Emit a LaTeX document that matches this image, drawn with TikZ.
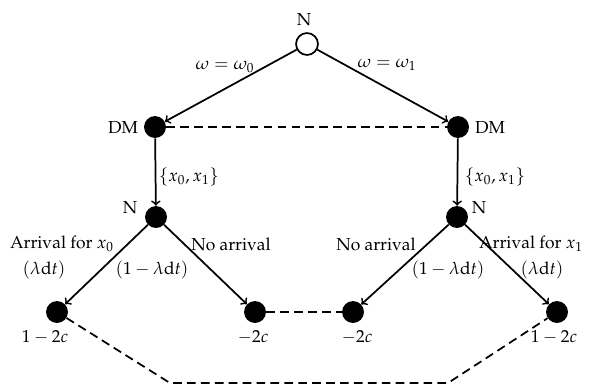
\documentclass[tikz,border=0pt]{standalone}
\usepackage{mathpazo}
\usepackage[T1]{fontenc}

\begin{document}
\begin{tikzpicture}[x=0.575pt,y=-0.575pt,
  chance/.style={circle,draw,line width=1pt,fill=white,minimum size=12.6pt,inner sep=0pt},
  dec/.style={circle,fill=black,minimum size=12.6pt,inner sep=0pt},
  move/.style={line width=1pt,->},
  infoset/.style={line width=1pt,dash pattern=on 5pt off 3pt}]
\useasboundingbox (0,0) rectangle (594,385);
% tree nodes
\node[chance] (root) at (307,44) {};
\node[dec] (dmA) at (155,127) {};
\node[dec] (dmB) at (458,127) {};
\node[dec] (natA) at (156,217) {};
\node[dec] (natB) at (457,217) {};
\foreach \n/\x in {a/57, b/255, c/353, d/557}
  \node[dec] (leaf\n) at (\x,312) {};
% who moves
\node (lblRoot) at (304,20) {N};
\node (lblDmA) at (123,127) {DM};
\node (lblDmB) at (490,127) {DM};
\node (lblNatA) at (130,208) {N};
\node (lblNatB) at (479,208) {N};
% moves
\draw[move] (root) -- (dmA);
\draw[move] (root) -- (dmB);
\draw[move] (dmA) -- (natA);
\draw[move] (dmB) -- (natB);
\draw[move] (natA) -- (leafa);
\draw[move] (natA) -- (leafb);
\draw[move] (natB) -- (leafc);
\draw[move] (natB) -- (leafd);
\node (lblW0) at (225,67) {$\omega = \omega_0$};
\node (lblW1) at (387,65) {$\omega = \omega_1$};
\node (lblSetA) at (189,177) {$\{x_0, x_1\}$};
\node (lblSetB) at (495,177) {$\{x_0, x_1\}$};
\node (lblArrA) at (62,244) {Arrival for $x_0$};
\node (lblProbA) at (44,270) {$(\lambda\mathrm{d}t)$};
\node (lblNoProbA) at (152,270) {$(1-\lambda\mathrm{d}t)$};
\node (lblNoA) at (231,244) {No arrival};
\node (lblNoB) at (376,244) {No arrival};
\node (lblNoProbB) at (448,270) {$(1-\lambda\mathrm{d}t)$};
\node (lblArrB) at (531,244) {Arrival for $x_1$};
\node (lblProbB) at (542,270) {$(\lambda\mathrm{d}t)$};
% payoffs
\node (payA) at (45,337) {$1-2c$};
\node (payB) at (253,337) {$-2c$};
\node (payC) at (357,337) {$-2c$};
\node (payD) at (554,337) {$1-2c$};
% information sets
\draw[infoset] (dmA) -- (dmB);
\draw[infoset] (leafb) -- (leafc);
\coordinate (botA) at (170,383);
\coordinate (botB) at (448,383);
\draw[infoset] (leafa) -- (botA) -- (botB) -- (leafd);
\end{tikzpicture}
\end{document}
